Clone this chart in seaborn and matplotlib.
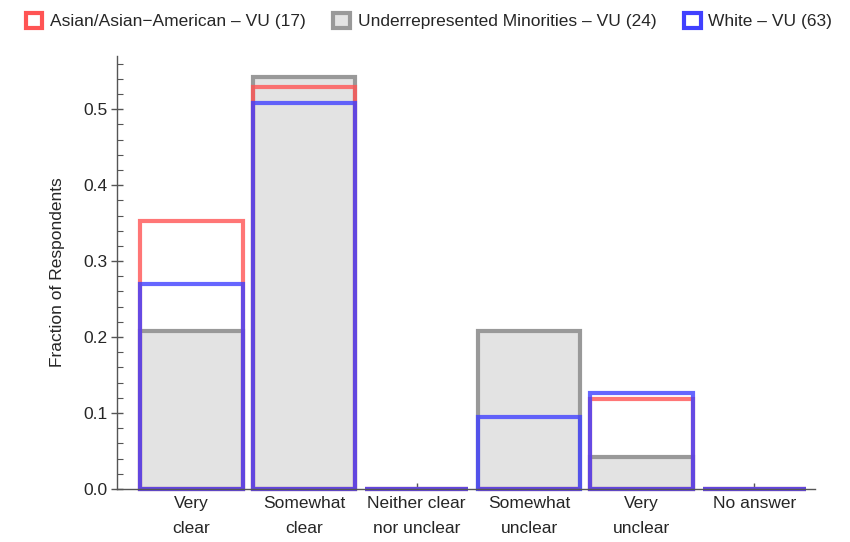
import pandas as pd
import seaborn as sns
import matplotlib.pyplot as plt
from matplotlib.patches import Patch
from matplotlib.ticker import MultipleLocator

# Response categories (x-axis tick labels)
categories = ["Very\nclear", "Somewhat\nclear", "Neither clear\nnor unclear",
              "Somewhat\nunclear", "Very\nunclear", "No answer"]

# Fraction of respondents per group
asian = [0.353, 0.529, 0.0, 0.0, 0.118, 0.0]
urm = [0.208, 0.542, 0.0, 0.208, 0.042, 0.0]
white = [0.270, 0.508, 0.0, 0.095, 0.127, 0.0]

series_names = ["Asian/Asian\u2212American \u2013 VU (17)",
                "Underrepresented Minorities \u2013 VU (24)",
                "White \u2013 VU (63)"]

sns.set_style("white")
plt.rcParams["font.family"] = ["Liberation Sans", "DejaVu Sans"]
FS = 12.5

fig = plt.figure(figsize=(8.5, 5.42), dpi=100)
ax = fig.add_axes([0.1376, 0.0978, 0.8214, 0.7989])

red = (1.0, 0.33, 0.33)
gray_edge = (0.6, 0.6, 0.6)
gray_fill = (0.89, 0.89, 0.89)
blue = (0.25, 0.25, 1.0)

# gray filled bars first
df_urm = pd.DataFrame({"response": categories, "fraction": urm})
sns.barplot(data=df_urm, x="response", y="fraction", color=gray_fill,
            width=0.91, ax=ax, saturation=1)
for p in ax.patches:
    p.set_facecolor(gray_fill)
    p.set_edgecolor(gray_edge)
    p.set_linewidth(3)
n = len(ax.patches)

for vals, col in [(asian, red), (white, blue)]:
    df = pd.DataFrame({"response": categories, "fraction": vals})
    sns.barplot(data=df, x="response", y="fraction", color=col, fill=False,
                width=0.91, ax=ax, saturation=1)
    for p in ax.patches[n:]:
        p.set_facecolor("none")
        p.set_edgecolor((*col, 0.8))
        p.set_linewidth(3)
    n = len(ax.patches)

for p in ax.patches:
    p.set_clip_on(False)

ax.set_xlim(-0.66, 5.54)
ax.set_ylim(0, 0.57)
ax.yaxis.set_minor_locator(MultipleLocator(0.02))
ax.set_yticks([0.0, 0.1, 0.2, 0.3, 0.4, 0.5])
ax.set_yticklabels(["0.0", "0.1", "0.2", "0.3", "0.4", "0.5"])
ax.tick_params(axis="y", which="major", direction="inout", length=8, width=1,
               color="#555555", labelsize=FS, left=True, pad=3)
ax.tick_params(axis="y", which="minor", direction="in", length=4, width=0.8,
               color="#555555", left=True)
ax.tick_params(axis="x", direction="in", length=4, width=1, color="#555555",
               labelsize=FS, bottom=True, pad=5)
for lbl in ax.get_xticklabels():
    lbl.set_linespacing(1.8)

ax.set_xlabel("")
ax.set_ylabel("Fraction of Respondents", fontsize=FS, labelpad=13)

for s in ["top", "right"]:
    ax.spines[s].set_visible(False)
for s in ["left", "bottom"]:
    ax.spines[s].set_color("#555555")
    ax.spines[s].set_linewidth(1)

handles = [
    Patch(facecolor="white", edgecolor=red, linewidth=3, label=series_names[0]),
    Patch(facecolor=gray_fill, edgecolor=gray_edge, linewidth=3, label=series_names[1]),
    Patch(facecolor="white", edgecolor=blue, linewidth=3, label=series_names[2]),
]
fig.legend(handles=handles, loc="center left", bbox_to_anchor=(0.03, 0.961),
           ncol=3, frameon=False, fontsize=FS, handlelength=0.95,
           handleheight=0.95, handletextpad=0.45, columnspacing=1.6,
           borderpad=0, borderaxespad=0)

plt.savefig("out.png", dpi=100)
plt.close()
